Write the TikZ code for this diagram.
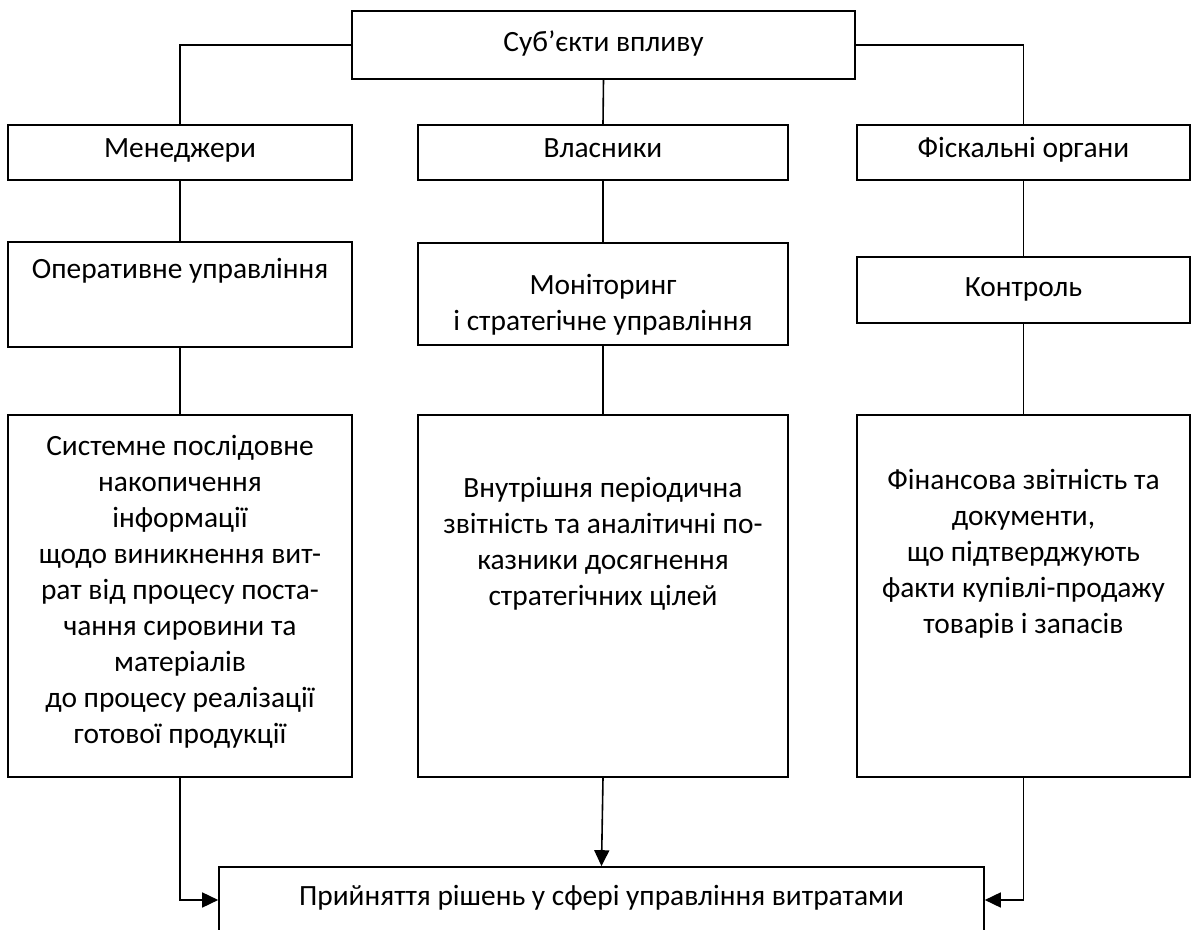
\documentclass[tikz,border=0pt]{standalone}
\usepackage{fontspec}
\setmainfont{Carlito}
\usetikzlibrary{arrows.meta, positioning}
\tikzstyle{arrow} = [-{Triangle[length=8pt,width=7.5pt]}]
\tikzstyle{box} = [rectangle, draw = black, line width=0.8pt, inner sep=0pt]
\tikzstyle{txt} = [align=center, inner sep=0pt, font=\fontsize{14.7}{18}\selectfont]
\tikzstyle{oneline} = [txt, text height=11.5pt, text depth=2.5pt]

\begin{document}
\begin{tikzpicture}[x=0.5pt, y=-0.5pt, line width=0.8pt]
\useasboundingbox (0,0) rectangle (1191,930);

% Subjects of influence:
\node(subj)[box, minimum width=251.5pt, minimum height=34pt] at (603.5,45) {};
\node(subj-txt)[oneline] at (603.5,43) {Суб’єкти впливу};

% Managers, owners, fiscal bodies:
\node(mgr)[box, minimum width=172pt, minimum height=27.5pt] at (180,152.5) {};
\node(mgr-txt)[oneline] at (180,149) {Менеджери};
\node(own)[box, minimum width=185pt, minimum height=27.5pt] at (603,152.5) {};
\node(own-txt)[oneline] at (603,149) {Власники};
\node(fisc)[box, minimum width=166.5pt, minimum height=27.5pt] at (1023.5,152.5) {};
\node(fisc-txt)[oneline] at (1023.5,149) {Фіскальні органи};

% Kinds of management:
\node(opmgmt)[box, minimum width=172pt, minimum height=52.5pt] at (180,294.5) {};
\node(opmgmt-txt)[oneline] at (180,270) {Оперативне управління};
\node(strat)[box, minimum width=185pt, minimum height=51pt] at (603,294) {};
\node(strat-txt)[txt] at (603,304.5) {Моніторинг\\і стратегічне управління};
\node(ctrl)[box, minimum width=166.5pt, minimum height=33pt] at (1023.5,290) {};
\node(ctrl-txt)[oneline] at (1023.5,288) {Контроль};

% Information sources:
\node(accum)[box, minimum width=172pt, minimum height=181pt] at (180,596) {};
\node(accum-txt)[txt] at (180,592)
{Системне послідовне\\накопичення\\інформації\\щодо виникнення вит-\\рат від процесу поста-\\чання сировини та\\матеріалів\\до процесу реалізації\\готової продукції};
\node(report)[box, minimum width=185pt, minimum height=181pt] at (603,596) {};
\node(report-txt)[txt] at (603,543.5)
{Внутрішня періодична\\звітність та аналітичні по-\\казники досягнення\\стратегічних цілей};
\node(fin)[box, minimum width=166.5pt, minimum height=181pt] at (1023.5,596) {};
\node(fin-txt)[txt] at (1023.5,553.5)
{Фінансова звітність та\\документи,\\що підтверджують\\факти купівлі-продажу\\товарів і запасів};

% Decision making:
\node(decision)[box, minimum width=382.5pt, minimum height=33pt] at (601.5,900) {};
\node(decision-txt)[oneline] at (601.5,897) {Прийняття рішень у сфері управління витратами};

% Connectors:
\draw (subj.west) -| (mgr.north);
\draw (subj.south) -- (own.north);
\draw (subj.east) -| (fisc.north);
\draw (mgr) -- (opmgmt);
\draw (own) -- (strat);
\draw (fisc) -- (ctrl);
\draw (opmgmt) -- (accum);
\draw (strat) -- (report);
\draw (ctrl) -- (fin);
\draw[arrow] (accum.south) |- (decision.west);
\draw[arrow] (report.south) -- (decision.north);
\draw[arrow] (fin.south) |- (decision.east);

\end{tikzpicture}
\end{document}
